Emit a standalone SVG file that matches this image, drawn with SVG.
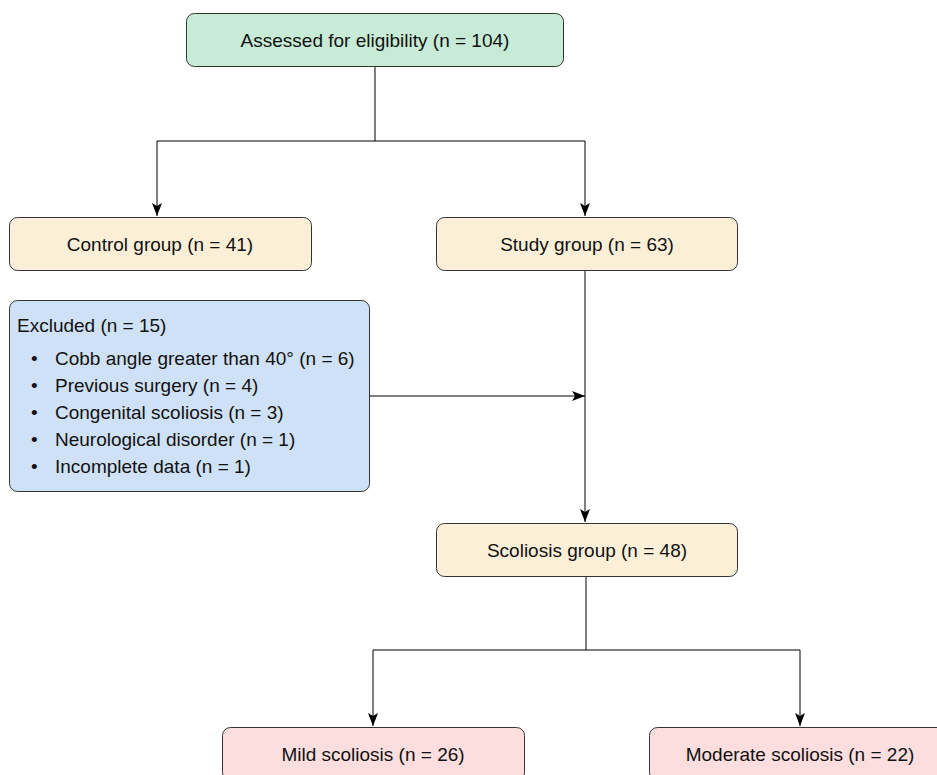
<svg xmlns="http://www.w3.org/2000/svg" width="937" height="775" viewBox="0 0 937 775">
<defs>
<marker id="ah" markerWidth="14" markerHeight="12" refX="13" refY="6" orient="auto" markerUnits="userSpaceOnUse">
<path d="M0,1 L13,6 L0,11 L3,6 Z" fill="#000"/>
</marker>
<style>
.box{stroke:#333;stroke-width:1}
.green{fill:#c7ebd7}
.yellow{fill:#fbf0d7}
.blue{fill:#cfe1f6}
.pink{fill:#fcdede}
text{font-family:"Liberation Sans",Arial,sans-serif;font-size:19px;fill:#111}
.c{text-anchor:middle}
.ln{fill:none;stroke:#000;stroke-width:1}
</style>
</defs>
<g id="connectors">
<path class="ln" d="M375,66 V141 M157,141 H585"/>
<path class="ln" d="M157,141 V216" marker-end="url(#ah)"/>
<path class="ln" d="M585,141 V216" marker-end="url(#ah)"/>
<path class="ln" d="M585,270 V522" marker-end="url(#ah)"/>
<path class="ln" d="M369,396 H585" marker-end="url(#ah)"/>
<path class="ln" d="M586,576 V650 M373,650 H800"/>
<path class="ln" d="M373,650 V726" marker-end="url(#ah)"/>
<path class="ln" d="M800,650 V726" marker-end="url(#ah)"/>
</g>
<g id="assessed">
<rect class="box green" x="186.5" y="13.5" width="377" height="53" rx="8"/>
<text class="c" x="375" y="47">Assessed for eligibility (n = 104)</text>
</g>
<g id="control">
<rect class="box yellow" x="9.5" y="217.5" width="302" height="53" rx="8"/>
<text class="c" x="160" y="251">Control group (n = 41)</text>
</g>
<g id="study">
<rect class="box yellow" x="436.5" y="217.5" width="301" height="53" rx="8"/>
<text class="c" x="587" y="251">Study group (n = 63)</text>
</g>
<g id="excluded">
<rect class="box blue" x="9.5" y="300.5" width="360" height="191" rx="8"/>
<text x="17" y="332">Excluded (n = 15)</text>
<text x="31" y="365">•</text><text x="55" y="365">Cobb angle greater than 40° (n = 6)</text>
<text x="31" y="392">•</text><text x="55" y="392">Previous surgery (n = 4)</text>
<text x="31" y="419">•</text><text x="55" y="419">Congenital scoliosis (n = 3)</text>
<text x="31" y="446">•</text><text x="55" y="446">Neurological disorder (n = 1)</text>
<text x="31" y="473">•</text><text x="55" y="473">Incomplete data (n = 1)</text>
</g>
<g id="scoliosis">
<rect class="box yellow" x="436.5" y="523.5" width="301" height="53" rx="8"/>
<text class="c" x="587" y="557">Scoliosis group (n = 48)</text>
</g>
<g id="mild">
<rect class="box pink" x="222.5" y="727.5" width="302" height="53" rx="8"/>
<text class="c" x="373" y="761">Mild scoliosis (n = 26)</text>
</g>
<g id="moderate">
<rect class="box pink" x="649.5" y="727.5" width="302" height="53" rx="8"/>
<text class="c" x="800" y="761">Moderate scoliosis (n = 22)</text>
</g>
</svg>
